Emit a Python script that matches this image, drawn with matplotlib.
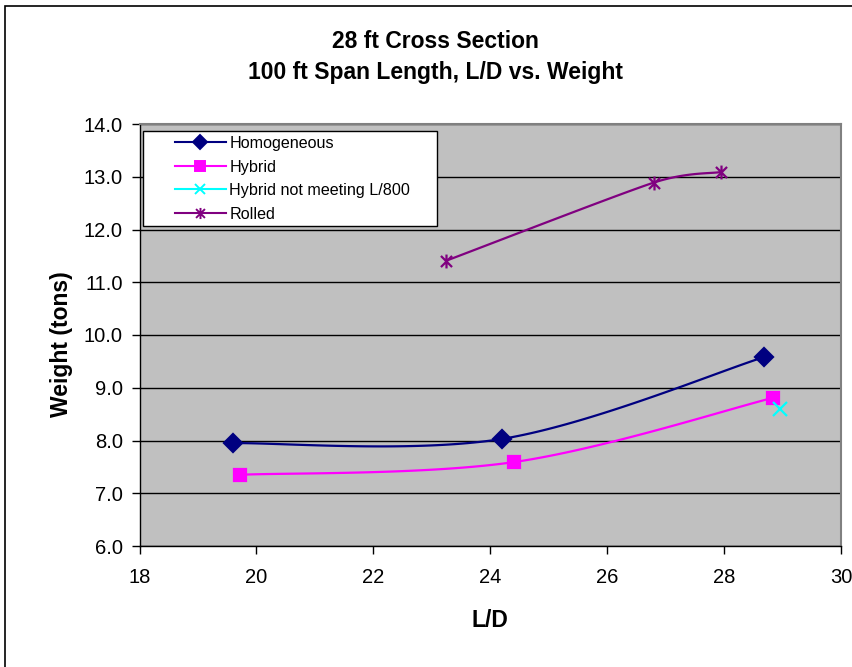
import numpy as np
import matplotlib
matplotlib.use("Agg")
import matplotlib.pyplot as plt
from matplotlib.path import Path
from matplotlib.patches import Rectangle
from matplotlib.lines import Line2D
from matplotlib.legend_handler import HandlerLine2D

plt.rcParams['font.family'] = ['Liberation Sans', 'DejaVu Sans']

# ---- data ----
homog_x = [19.6, 24.2, 28.68]
homog_y = [7.95, 8.03, 9.58]
hybrid_x = [19.72, 24.4, 28.84]
hybrid_y = [7.35, 7.59, 8.81]
hybrid_nm_x = [28.95]
hybrid_nm_y = [8.60]
rolled_x = [23.25, 26.8, 27.95]
rolled_y = [11.41, 12.89, 13.09]

xticks = [18, 20, 22, 24, 26, 28, 30]
yticks = [6.0, 7.0, 8.0, 9.0, 10.0, 11.0, 12.0, 13.0, 14.0]

title_lines = ["28 ft Cross Section", "100 ft Span Length, L/D vs. Weight"]

W, H = 852, 667
fig = plt.figure(figsize=(W / 100, H / 100), dpi=100)
ax = fig.add_axes([139.5 / W, 1 - 546 / H, (841 - 139.5) / W, (546 - 124) / H])
ax.set_facecolor('#C0C0C0')
ax.set_xlim(18, 30)
ax.set_ylim(6, 14)


def smooth(xs, ys, n=50):
    """Excel-like Bezier smoothing through the points (in display space)."""
    P = ax.transData.transform(np.column_stack([xs, ys]).astype(float))
    if len(P) < 2:
        return np.asarray(xs), np.asarray(ys)

    def tangent(i):
        p_prev = P[i - 1] if i > 0 else P[i]
        p_next = P[i + 1] if i + 1 < len(P) else P[i]
        d = p_next - p_prev
        f = 1.0 / 6.0
        if 0 < i < len(P) - 1:
            d02 = np.hypot(*d)
            dmin = min(np.hypot(*(P[i] - p_prev)), np.hypot(*(p_next - P[i])))
            if d02 > 0 and d02 * f > dmin / 2:
                f = dmin / 2 / d02
        return d * f

    out = []
    for i in range(len(P) - 1):
        p1, p2 = P[i], P[i + 1]
        c1 = p1 + tangent(i)
        c2 = p2 - tangent(i + 1)
        t = np.linspace(0, 1, n)[:, None]
        seg = ((1 - t) ** 3) * p1 + 3 * ((1 - t) ** 2) * t * c1 + 3 * (1 - t) * t ** 2 * c2 + t ** 3 * p2
        out.append(seg if i == 0 else seg[1:])
    S = ax.transData.inverted().transform(np.vstack(out))
    return S[:, 0], S[:, 1]


class ShiftHandler(HandlerLine2D):
    def get_xdata(self, legend, xdescent, ydescent, width, height, fontsize):
        x0 = -xdescent + width * 0.35
        x1 = -xdescent + width
        return np.array([x0, x1]), np.array([(x0 + x1) / 2])


star = Path([(-1, -1), (1, 1), (-1, 1), (1, -1), (0, -1.25), (0, 1.25)],
            [Path.MOVETO, Path.LINETO, Path.MOVETO, Path.LINETO, Path.MOVETO, Path.LINETO])

series = [
    (homog_x, homog_y, '#000080', 'D', 9.5, 'Homogeneous'),
    (hybrid_x, hybrid_y, '#FF00FF', 's', 8.5, 'Hybrid'),
    (hybrid_nm_x, hybrid_nm_y, '#00FFFF', 'x', 9.5, 'Hybrid not meeting L/800'),
    (rolled_x, rolled_y, '#800080', star, 10, 'Rolled'),
]
handles = []
for xs, ys, c, m, ms, lab in series:
    sx, sy = smooth(xs, ys)
    ax.plot(sx, sy, color=c, lw=1.6, zorder=3)
    ax.plot(xs, ys, linestyle='none', marker=m, ms=ms, color=c,
            markeredgecolor=c, markeredgewidth=1.6, zorder=4)
    handles.append(Line2D([0], [0], color=c, lw=1.5, marker=m, ms=ms * 0.8,
                          markeredgecolor=c, markeredgewidth=1.4, label=lab))

ax.set_xticks(xticks)
ax.set_xticklabels([str(v) for v in xticks])
ax.set_yticks(yticks)
ax.set_yticklabels([f"{v:.1f}" for v in yticks])
ax.yaxis.grid(True, color='black', lw=1)
ax.set_axisbelow(True)
ax.tick_params(axis='both', direction='out', length=6, width=1, labelsize=14.5, color='black')
ax.tick_params(axis='x', pad=10)
ax.tick_params(axis='y', pad=6)
for s in ['top', 'right']:
    ax.spines[s].set_color('#808080')
    ax.spines[s].set_linewidth(1.5)
for s in ['left', 'bottom']:
    ax.spines[s].set_color('black')
    ax.spines[s].set_linewidth(1)

ax.set_xlabel('L/D', fontsize=16.5, fontweight='bold', labelpad=15.5)
ax.set_ylabel('Weight (tons)', fontsize=16.5, fontweight='bold', labelpad=7.5, y=0.479)

fig.text(0.511, 1 - 42 / H, title_lines[0], ha='center', va='center',
         fontsize=16.5, fontweight='bold')
fig.text(0.511, 1 - 73 / H, title_lines[1], ha='center', va='center',
         fontsize=16.5, fontweight='bold')


# legend box
def ax_px(x, y):
    return ((x - 139.5) / (841 - 139.5), (546 - y) / (546 - 124))


bx0, by0 = ax_px(143, 226)
bx1, by1 = ax_px(437, 131)
ax.add_patch(Rectangle((bx0, by0), bx1 - bx0, by1 - by0, transform=ax.transAxes,
                       facecolor='white', edgecolor='black', lw=1, zorder=5))
lx, ly = ax_px(147, 136)
leg = ax.legend(handles=handles, loc='upper left', bbox_to_anchor=(lx, ly),
                fontsize=11.6, frameon=False, borderpad=0, labelspacing=0.53,
                handlelength=4.9, handletextpad=0.2, borderaxespad=0,
                handler_map={Line2D: ShiftHandler()})
leg.set_zorder(6)

# outer chart border
fig.patches.append(Rectangle((5 / W, -0.1), 1.2, 1 - 6 / H + 0.1,
                             transform=fig.transFigure, fill=False,
                             edgecolor='black', lw=1.2))

fig.savefig('out.png', dpi=100)
